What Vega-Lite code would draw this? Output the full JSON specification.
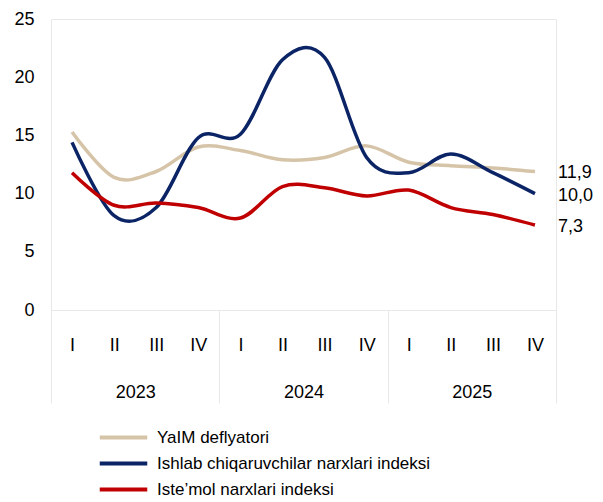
{
  "$schema": "https://vega.github.io/schema/vega-lite/v6.json",
  "autosize": "none",
  "width": 505,
  "height": 291,
  "padding": {"left": 51, "top": 19, "right": 47, "bottom": 192},
  "background": "white",
  "config": {
    "font": "Liberation Sans",
    "view": {"stroke": "#e8e8e8", "strokeWidth": 1}
  },
  "data": {
    "values": [
      {"q": 1, "series": "YaIM deflyatori", "v": 15.3},
      {"q": 2, "series": "YaIM deflyatori", "v": 11.4},
      {"q": 3, "series": "YaIM deflyatori", "v": 11.9},
      {"q": 4, "series": "YaIM deflyatori", "v": 14.0},
      {"q": 5, "series": "YaIM deflyatori", "v": 13.7},
      {"q": 6, "series": "YaIM deflyatori", "v": 12.9},
      {"q": 7, "series": "YaIM deflyatori", "v": 13.1},
      {"q": 8, "series": "YaIM deflyatori", "v": 14.1},
      {"q": 9, "series": "YaIM deflyatori", "v": 12.7},
      {"q": 10, "series": "YaIM deflyatori", "v": 12.4},
      {"q": 11, "series": "YaIM deflyatori", "v": 12.2},
      {"q": 12, "series": "YaIM deflyatori", "v": 11.9, "label": "11,9"},
      {"q": 1, "series": "Ishlab chiqaruvchilar narxlari indeksi", "v": 14.4},
      {"q": 2, "series": "Ishlab chiqaruvchilar narxlari indeksi", "v": 8.1},
      {"q": 3, "series": "Ishlab chiqaruvchilar narxlari indeksi", "v": 8.8},
      {"q": 4, "series": "Ishlab chiqaruvchilar narxlari indeksi", "v": 14.8},
      {"q": 5, "series": "Ishlab chiqaruvchilar narxlari indeksi", "v": 15.1},
      {"q": 6, "series": "Ishlab chiqaruvchilar narxlari indeksi", "v": 21.5},
      {"q": 7, "series": "Ishlab chiqaruvchilar narxlari indeksi", "v": 21.7},
      {"q": 8, "series": "Ishlab chiqaruvchilar narxlari indeksi", "v": 13.1},
      {"q": 9, "series": "Ishlab chiqaruvchilar narxlari indeksi", "v": 11.8},
      {"q": 10, "series": "Ishlab chiqaruvchilar narxlari indeksi", "v": 13.4},
      {"q": 11, "series": "Ishlab chiqaruvchilar narxlari indeksi", "v": 11.8},
      {"q": 12, "series": "Ishlab chiqaruvchilar narxlari indeksi", "v": 10.0, "label": "10,0"},
      {"q": 1, "series": "Iste’mol narxlari indeksi", "v": 11.8},
      {"q": 2, "series": "Iste’mol narxlari indeksi", "v": 9.0},
      {"q": 3, "series": "Iste’mol narxlari indeksi", "v": 9.2},
      {"q": 4, "series": "Iste’mol narxlari indeksi", "v": 8.8},
      {"q": 5, "series": "Iste’mol narxlari indeksi", "v": 7.9},
      {"q": 6, "series": "Iste’mol narxlari indeksi", "v": 10.6},
      {"q": 7, "series": "Iste’mol narxlari indeksi", "v": 10.5},
      {"q": 8, "series": "Iste’mol narxlari indeksi", "v": 9.8},
      {"q": 9, "series": "Iste’mol narxlari indeksi", "v": 10.3},
      {"q": 10, "series": "Iste’mol narxlari indeksi", "v": 8.8},
      {"q": 11, "series": "Iste’mol narxlari indeksi", "v": 8.2},
      {"q": 12, "series": "Iste’mol narxlari indeksi", "v": 7.3, "label": "7,3"}
    ]
  },
  "layer": [
    {
      "mark": {"type": "line", "interpolate": "cardinal", "tension": 0, "strokeWidth": 3.5},
      "encoding": {
        "x": {
          "field": "q", "type": "quantitative",
          "scale": {"domain": [0.5, 12.5], "nice": false, "zero": false},
          "axis": {
            "orient": "bottom", "title": null, "values": [1,2,3,4,5,6,7,8,9,10,11,12],
            "labelExpr": "['I','II','III','IV'][(datum.value - 1) % 4]",
            "ticks": false, "domain": false, "grid": false,
            "labelFontSize": 18, "labelColor": "#000000", "labelPadding": 26,
            "labelBaseline": "top", "labelFlush": false
          }
        },
        "y": {
          "field": "v", "type": "quantitative",
          "scale": {"domain": [0, 25], "nice": false},
          "axis": {
            "title": null, "values": [0,5,10,15,20,25], "ticks": false, "domain": false, "grid": false,
            "labelFontSize": 18, "labelColor": "#000000", "labelPadding": 17
          }
        },
        "color": {
          "field": "series", "type": "nominal",
          "scale": {
            "domain": ["YaIM deflyatori", "Ishlab chiqaruvchilar narxlari indeksi", "Iste’mol narxlari indeksi"],
            "range": ["#d6c4a8", "#0b2466", "#c00000"]
          },
          "legend": {
            "title": null, "orient": "none", "direction": "vertical",
            "legendX": 61, "legendY": 407,
            "symbolType": "M-2.5,0H2.5", "symbolSize": 361, "symbolStrokeWidth": 4,
            "labelFontSize": 17, "labelColor": "#000000", "labelOffset": 22,
            "rowPadding": 6, "labelLimit": 500
          }
        },
        "detail": {"field": "series"}
      }
    },
    {
      "transform": [{"filter": "datum.label != null"}],
      "mark": {"type": "text", "align": "left", "baseline": "middle", "dx": 23, "dy": 2, "fontSize": 18, "color": "#000000"},
      "encoding": {
        "x": {
          "field": "q", "type": "quantitative",
          "axis": {
            "orient": "bottom", "title": null, "values": [2.5, 6.5, 10.5],
            "labelExpr": "datum.value == 2.5 ? '2023' : datum.value == 6.5 ? '2024' : '2025'",
            "ticks": false, "domain": false, "grid": false,
            "labelFontSize": 18, "labelColor": "#000000", "labelPadding": 73,
            "labelBaseline": "top", "labelFlush": false
          }
        },
        "y": {"field": "v", "type": "quantitative"},
        "text": {"field": "label"}
      }
    },
    {
      "mark": {"type": "point", "opacity": 0},
      "encoding": {
        "x": {
          "field": "q", "type": "quantitative",
          "axis": {
            "orient": "bottom", "title": null, "values": [0.5, 4.5, 8.5, 12.5],
            "labels": false, "domain": false, "grid": false,
            "ticks": true, "tickSize": 93, "tickColor": "#e8e8e8", "tickWidth": 1
          }
        },
        "y": {"field": "v", "type": "quantitative"}
      }
    }
  ],
  "resolve": {"axis": {"x": "independent"}}
}
